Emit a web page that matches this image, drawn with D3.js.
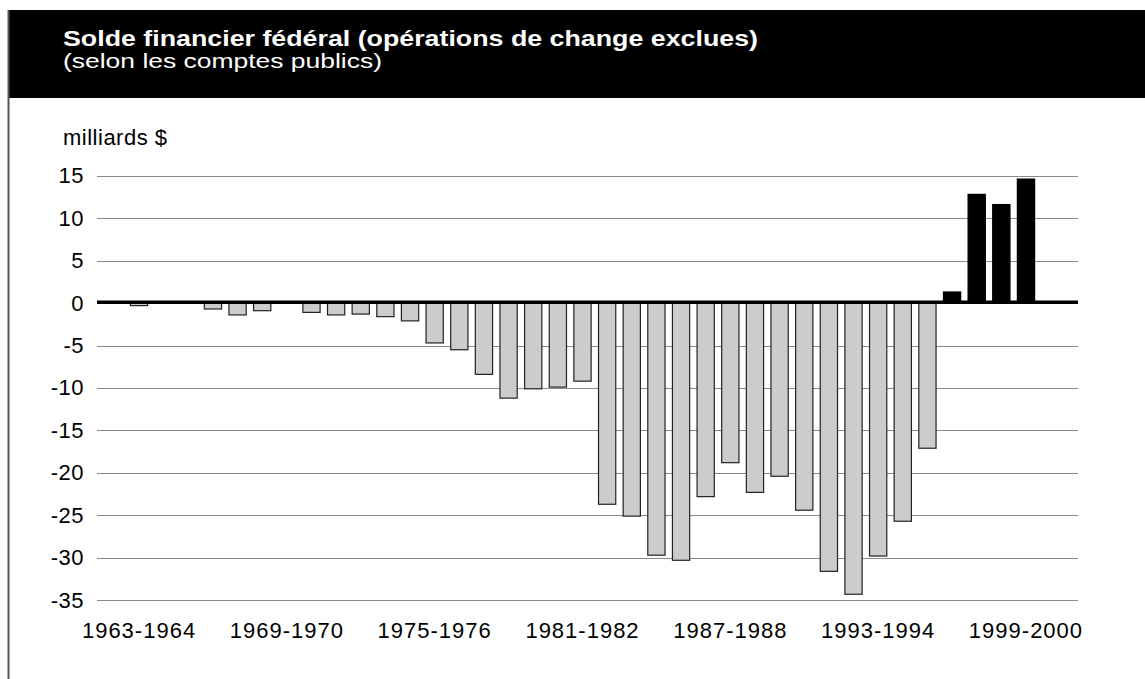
<!DOCTYPE html>
<html>
<head>
<meta charset="utf-8">
<script src="https://cdn.jsdelivr.net/npm/d3@7/dist/d3.min.js"></script>
<style>
  html, body { margin: 0; padding: 0; background: #fff; }
  svg { display: block; }
</style>
</head>
<body>
<svg id="chart" width="1145" height="679"></svg>
<script>
const titleText = "Solde financier fédéral (opérations de change exclues)";
const subtitleText = "(selon les comptes publics)";
const unitLabel = "milliards $";

const categories = [
  "1963-1964","1964-1965","1965-1966","1966-1967","1967-1968","1968-1969",
  "1969-1970","1970-1971","1971-1972","1972-1973","1973-1974","1974-1975",
  "1975-1976","1976-1977","1977-1978","1978-1979","1979-1980","1980-1981",
  "1981-1982","1982-1983","1983-1984","1984-1985","1985-1986","1986-1987",
  "1987-1988","1988-1989","1989-1990","1990-1991","1991-1992","1992-1993",
  "1993-1994","1994-1995","1995-1996","1996-1997","1997-1998","1998-1999",
  "1999-2000"
];
const values = [
  -0.3, 0.1, 0.1, -0.7, -1.4, -0.9,
  0.1, -1.1, -1.4, -1.3, -1.6, -2.1,
  -4.7, -5.5, -8.4, -11.2, -10.1, -9.9,
  -9.2, -23.7, -25.1, -29.7, -30.3, -22.8,
  -18.8, -22.3, -20.4, -24.4, -31.6, -34.3,
  -29.8, -25.7, -17.1, 1.3, 12.8, 11.6,
  14.6
];
const xTickLabels = ["1963-1964","1969-1970","1975-1976","1981-1982","1987-1988","1993-1994","1999-2000"];
const yTicks = [15, 10, 5, 0, -5, -10, -15, -20, -25, -30, -35];

const data = categories.map((c, i) => ({ cat: c, value: values[i] }));

const svg = d3.select("#chart");
const labelFont = "'Liberation Sans', Arial, Helvetica, sans-serif";

// Header band
svg.append("rect").attr("x", 8).attr("y", 10).attr("width", 1137).attr("height", 88).attr("fill", "#000");
// left border of the frame
svg.append("line").attr("x1", 8.5).attr("x2", 8.5).attr("y1", 10).attr("y2", 679)
  .attr("stroke", "#555").attr("stroke-width", 2);

svg.append("text").text(titleText)
  .attr("x", 63).attr("y", 46)
  .attr("fill", "#fff").attr("font-family", labelFont).attr("font-weight", "bold")
  .attr("font-size", 22).attr("textLength", 695).attr("lengthAdjust", "spacingAndGlyphs");
svg.append("text").text(subtitleText)
  .attr("x", 63).attr("y", 68)
  .attr("fill", "#fff").attr("font-family", labelFont)
  .attr("font-size", 20.5).attr("textLength", 319).attr("lengthAdjust", "spacingAndGlyphs");

svg.append("text").text(unitLabel)
  .attr("x", 63).attr("y", 145)
  .attr("fill", "#000").attr("font-family", labelFont).attr("font-size", 22)
  .attr("letter-spacing", 0.5);

// Scales
const x = d3.scaleBand().domain(categories).range([126.7, 1038.3]).paddingInner(0.3).paddingOuter(0.15);
const y = d3.scaleLinear().domain([-35, 15]).range([600.2, 175.7]);

const gridX0 = 97, gridX1 = 1078;

// gridlines
svg.append("g").selectAll("line").data(yTicks.filter(d => d !== 0)).join("line")
  .attr("x1", gridX0).attr("x2", gridX1)
  .attr("y1", d => Math.round(y(d)) + 0.5).attr("y2", d => Math.round(y(d)) + 0.5)
  .attr("stroke", "#8a8a8a").attr("stroke-width", 1.2);

// bars
svg.append("g").selectAll("rect").data(data).join("rect")
  .attr("x", d => x(d.cat))
  .attr("width", x.bandwidth())
  .attr("y", d => y(Math.max(0, d.value)))
  .attr("height", d => Math.abs(y(d.value) - y(0)))
  .attr("fill", d => d.value >= 0 ? "#000" : "#cccccc")
  .attr("stroke", d => d.value >= 0 ? "#000" : "#222")
  .attr("stroke-width", 1.2);

// zero line
svg.append("line").attr("x1", gridX0).attr("x2", gridX1)
  .attr("y1", y(0) - 0.8).attr("y2", y(0) - 0.8)
  .attr("stroke", "#000").attr("stroke-width", 3.4);

// y axis
const yAxis = svg.append("g").attr("transform", "translate(85,0)")
  .call(d3.axisLeft(y).tickValues(yTicks).tickSize(0).tickPadding(1).tickFormat(d => String(d)));
yAxis.select(".domain").remove();
yAxis.selectAll("text").attr("font-family", labelFont).attr("font-size", 22).attr("fill", "#000")
  .attr("letter-spacing", 0.5);

// x axis
const xAxis = svg.append("g").attr("transform", "translate(0,600)")
  .call(d3.axisBottom(x).tickValues(xTickLabels).tickSize(0).tickPadding(22.4));
xAxis.select(".domain").remove();
xAxis.selectAll("text").attr("font-family", labelFont).attr("font-size", 22).attr("fill", "#000")
  .attr("letter-spacing", 1);
</script>
</body>
</html>
